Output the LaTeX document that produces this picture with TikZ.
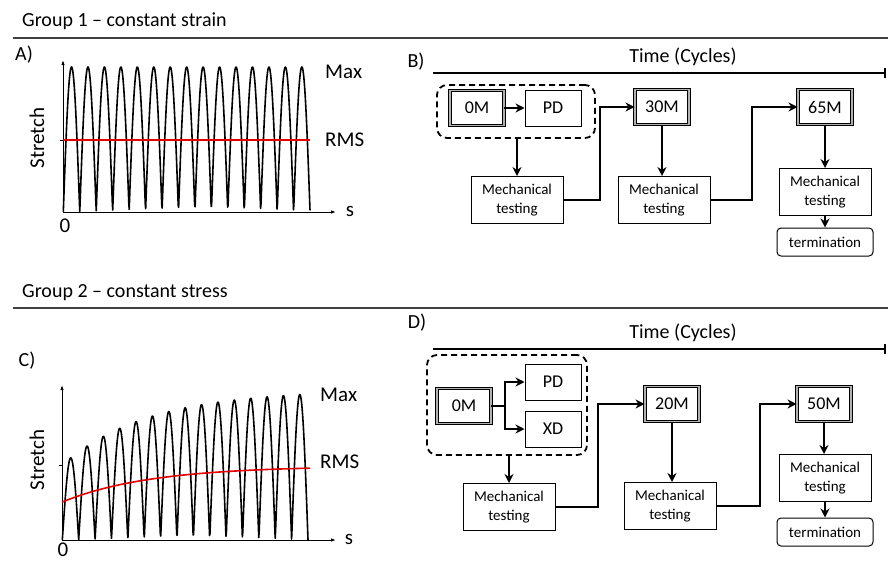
\documentclass[tikz,border=0pt]{standalone}
\usepackage{fontspec}
\setmainfont{Carlito}
\usetikzlibrary{arrows.meta}

\tikzset{
  stage/.style={draw, line width=0.9pt, double=black!30, double distance=1.5pt, minimum width=54, minimum height=35, inner sep=0pt, font=\fontsize{18}{20}\selectfont},
  probe/.style={draw, line width=1pt, minimum width=56, minimum height=36, inner sep=0pt, font=\fontsize{18}{20}\selectfont},
  mtest/.style={draw, line width=1pt, minimum width=92, minimum height=47, inner sep=1pt, align=center, font=\fontsize{15}{19}\selectfont},
  endbox/.style={draw, line width=1pt, rounded corners=4pt, minimum width=96, minimum height=28, inner sep=0pt, font=\fontsize{15}{17}\selectfont},
  grpbox/.style={draw, line width=1.8pt, dash pattern={on 6pt off 4pt}, rounded corners=10pt},
  flow/.style={line width=2pt, -{Stealth[length=9pt,width=9pt]}},
  timeline/.style={line width=1.8pt, -{Bar[width=10pt]}},
  axis/.style={line width=1pt, -{Latex[length=5pt,width=3.5pt]}},
  wave/.style={line width=1.6pt, line join=round},
  rms/.style={line width=1.6pt, red!90!black},
  lbl/.style={inner sep=0pt, font=\fontsize{21}{23}\selectfont},
  ttl/.style={inner sep=0pt, font=\fontsize{20}{22}\selectfont}
}

\begin{document}
\begin{tikzpicture}[x=1pt,y=1pt,yscale=-1,xscale=1]
\useasboundingbox (0,0) rectangle (888,562);

% Group titles
\node[ttl, anchor=base west] (g1) at (22,27) {Group 1 -- constant strain};
\draw[line width=1.2pt, black!75] (13,38) -- (888,38);
\node[ttl, anchor=base west] (g2) at (22,297) {Group 2 -- constant stress};
\draw[line width=1.2pt, black!75] (13,308) -- (888,308);

% Panel A
\node[ttl] (la) at (24,55) {A)};
\draw[axis] (63,212) -- (63,60);
\draw[axis] (63,212) -- (336,212);
\draw[line width=0.6pt] (59.5,140) -- (62.5,140);
\draw[wave] plot[domain=63.3:310, samples=600] (\x, {212-145*abs(sin(10.942*(\x-63.3)))});
\draw[rms] (63,140) -- (310,140);
\node[lbl, anchor=west] (amax) at (325,72) {Max};
\node[lbl, anchor=west] (arms) at (325,140) {RMS};
\node[lbl] (as) at (350,211) {s};
\node[lbl] (a0) at (65,226) {0};
\node[lbl, rotate=90] (astr) at (37,138) {Stretch};

% Panel C
\node[ttl] (lc) at (27,361) {C)};
\draw[axis] (62,540) -- (62,385);
\draw[axis] (62,540) -- (336,540);
\draw[line width=0.6pt] (58.5,465) -- (61.5,465);
\draw[wave] plot[domain=62.3:308, samples=600] (\x, {540-(150-68*exp(-0.01172*(\x-70.5)))*abs(sin(10.989*(\x-62.3)))});
\draw[rms] plot[domain=62.3:310, samples=60, smooth] (\x, {540-74+36*exp(-0.0114*(\x-62.3))});
\node[lbl, anchor=west] (cmax) at (320,395) {Max};
\node[lbl, anchor=west] (crms) at (320,462) {RMS};
\node[lbl] (cs) at (349,539) {s};
\node[lbl] (c0) at (63,550) {0};
\node[lbl, rotate=90] (cstr) at (37,460) {Stretch};

% Panel B
\node[ttl] (lb) at (416,62) {B)};
\coordinate (tb0) at (433,73);
\coordinate (tb1) at (886,73);
\draw[timeline] (tb0) -- (tb1);
\node[ttl] (tb) at (683,57) {Time (Cycles)};

\node[stage] (om1) at (477,108) {0M};
\node[probe] (pd1) at (553,108) {PD};
\node[grpbox, minimum width=158, minimum height=53] (grp1) at (516,111.5) {};
\node[mtest] (mt1) at (517,200) {Mechanical\\testing};
\node[stage] (s30) at (662,107) {30M};
\node[mtest] (mt2) at (664,200) {Mechanical\\testing};
\node[stage] (s65) at (825,107) {65M};
\node[mtest] (mt3) at (825,192) {Mechanical\\testing};
\node[endbox] (end1) at (825,242) {termination};

\draw[flow] (om1) -- (pd1);
\draw[flow] (grp1.south -| mt1.north) -- (mt1.north);
\draw[flow] (mt1.east) -- ++(36,0) |- (s30.west);
\draw[flow] (s30.south) -- (s30.south |- mt2.north);
\draw[flow] (mt2.east) -- ++(41,0) |- (s65.west);
\draw[flow] (s65) -- (mt3);
\draw[flow] (mt3) -- (end1);

% Panel D
\node[ttl] (ld) at (417,323) {D)};
\coordinate (td0) at (433,349);
\coordinate (td1) at (886,349);
\draw[timeline] (td0) -- (td1);
\node[ttl] (td) at (683,333) {Time (Cycles)};

\node[stage] (om2) at (464,406) {0M};
\node[probe] (pd2) at (553,382) {PD};
\node[probe] (xd2) at (553,429) {XD};
\node[grpbox, minimum width=160, minimum height=100] (grp2) at (507,405) {};
\node[mtest] (mt4) at (509,507) {Mechanical\\testing};
\node[stage] (s20) at (672,404) {20M};
\node[mtest] (mt5) at (670,506) {Mechanical\\testing};
\node[stage] (s50) at (824,404) {50M};
\node[mtest] (mt6) at (825,478) {Mechanical\\testing};
\node[endbox] (end2) at (825,532) {termination};

\draw[flow] (om2.east) -- ++(14,0) |- (pd2.west);
\draw[flow] (om2.east) -- ++(14,0) |- (xd2.west);
\draw[flow] (grp2.south -| mt4.north) -- (mt4.north);
\draw[flow] (mt4.east) -- ++(42,0) |- (s20.west);
\draw[flow] (s20.south) -- (s20.south |- mt5.north);
\draw[flow] (mt5.east) -- ++(43,0) |- (s50.west);
\draw[flow] (s50.south) -- (s50.south |- mt6.north);
\draw[flow] (mt6) -- (end2);

\end{tikzpicture}
\end{document}
